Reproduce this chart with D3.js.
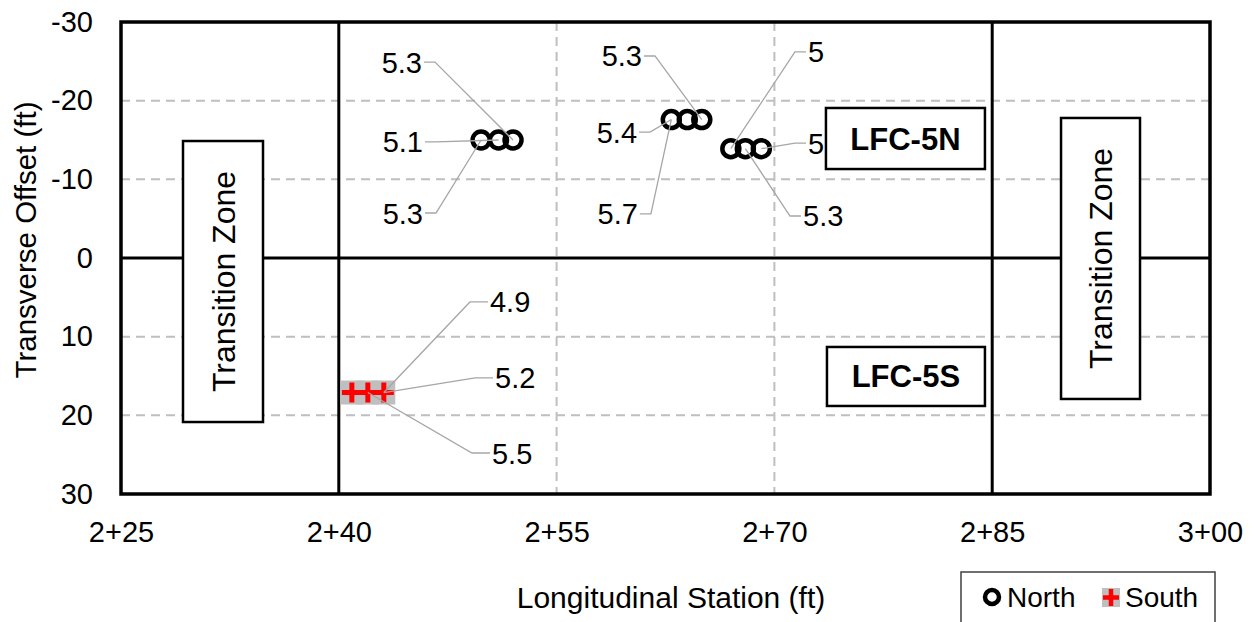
<!DOCTYPE html>
<html>
<head>
<meta charset="utf-8">
<script src="https://cdn.jsdelivr.net/npm/d3@7"></script>
<style>
  body { margin: 0; background: #fff; }
  svg { font-family: "Liberation Sans", Arial, sans-serif; }
</style>
</head>
<body>
<svg id="chart" width="1258" height="622"></svg>
<script>
// stations in ft (2+25 = 225), offsets in ft (negative = north)
const xTicks = [225, 240, 255, 270, 285, 300];
const yTicks = [-30, -20, -10, 0, 10, 20, 30];

const northStation = [249.8, 251, 252, 262.9, 264, 265, 267, 268, 269.1];
const northOffset  = [-15, -15, -15, -17.6, -17.6, -17.6, -13.9, -13.9, -13.9];
const northLabel   = ['5.3', '5.1', '5.3', '5.3', '5.4', '5.7', '5', '5', '5.3'];
// label anchor (station, offset) and which side the text sits on
const northLabelAt = [[245.73, -24.9, 'end'], [245.8, -14.75, 'end'], [245.8, -5.72, 'end'],
                      [260.88, -25.68, 'end'], [260.54, -16.0, 'end'], [260.6, -5.6, 'end'],
                      [272.31, -26.2, 'start'], [272.31, -14.6, 'start'], [271.97, -5.34, 'start']];
const northLeadTo  = [2, 1, 0, 5, 3, 3, 6, 8, 7];

const southStation = [240.9, 242, 243.1];
const southOffset  = [17.1, 17.1, 17.1];
const southLabel   = ['4.9', '5.2', '5.5'];
const southLabelAt = [[250.41, 5.59, 'start'], [250.76, 15.25, 'start'], [250.55, 24.79, 'start']];
const southLeadTo  = [2, 2, 1];

const zoneBoxes = [[229.27, 234.78, -14.87, 20.85], [289.74, 295.18, -17.8, 17.92]];
const areaBoxes = [['LFC-5N', 273.55, 284.5, -19.07, -11.31], ['LFC-5S', 273.62, 284.5, 11.31, 18.81]];
const thickX = [240, 285];
const thickY = [0];

const svg = d3.select('#chart');
const plotL = 121, plotR = 1210, plotT = 22, plotB = 494;
const FS = 29;

const x = d3.scaleLinear().domain([225, 300]).range([plotL, plotR]);
const y = d3.scaleLinear().domain([-30, 30]).range([plotT, plotB]);

const stationFmt = v => `${Math.floor(v / 100)}+${String(v % 100).padStart(2, '0')}`;

// grid
const grid = svg.append('g').attr('class', 'grid');
grid.selectAll('.gx').data(xTicks.filter(v => v > 225 && v < 300 && !thickX.includes(v)))
  .enter().append('line')
    .attr('x1', d => x(d)).attr('x2', d => x(d))
    .attr('y1', plotT).attr('y2', plotB)
    .attr('stroke', '#bfbfbf').attr('stroke-width', 2).attr('stroke-dasharray', '9,6');
grid.selectAll('.gy').data(yTicks.filter(v => v > -30 && v < 30 && !thickY.includes(v)))
  .enter().append('line')
    .attr('x1', plotL).attr('x2', plotR)
    .attr('y1', d => y(d)).attr('y2', d => y(d))
    .attr('stroke', '#bfbfbf').attr('stroke-width', 2).attr('stroke-dasharray', '9,6');

// zone divider lines
svg.selectAll('.tx').data(thickX).enter().append('line')
  .attr('x1', d => x(d)).attr('x2', d => x(d)).attr('y1', plotT).attr('y2', plotB)
  .attr('stroke', '#000').attr('stroke-width', 3);
svg.selectAll('.ty').data(thickY).enter().append('line')
  .attr('x1', plotL).attr('x2', plotR).attr('y1', d => y(d)).attr('y2', d => y(d))
  .attr('stroke', '#000').attr('stroke-width', 3);

// frame
svg.append('rect')
  .attr('x', plotL).attr('y', plotT).attr('width', plotR - plotL).attr('height', plotB - plotT)
  .attr('fill', 'none').attr('stroke', '#000').attr('stroke-width', 3.5);

// axes
const xAxis = svg.append('g').attr('transform', `translate(0,${plotB})`)
  .call(d3.axisBottom(x).tickValues(xTicks).tickFormat(stationFmt).tickSize(0).tickPadding(27));
const yAxis = svg.append('g').attr('transform', `translate(${plotL},0)`)
  .call(d3.axisLeft(y).tickValues(yTicks).tickFormat(d => String(d)).tickSize(0).tickPadding(28));
[xAxis, yAxis].forEach(a => {
  a.select('.domain').remove();
  a.selectAll('text').attr('font-size', FS).attr('fill', '#000')
    .attr('font-family', '"Liberation Sans", Arial, sans-serif');
});

svg.append('text')
  .attr('x', 671).attr('y', 608).attr('text-anchor', 'middle')
  .attr('font-size', 30).text('Longitudinal Station (ft)');
svg.append('text')
  .attr('transform', 'translate(36,240) rotate(-90)')
  .attr('text-anchor', 'middle').attr('font-size', 29.5).text('Transverse Offset (ft)');

// annotation boxes
const zones = svg.selectAll('.zone').data(zoneBoxes).enter().append('g');
zones.append('rect')
  .attr('x', d => x(d[0])).attr('y', d => y(d[2]))
  .attr('width', d => x(d[1]) - x(d[0])).attr('height', d => y(d[3]) - y(d[2]))
  .attr('fill', '#fff').attr('stroke', '#000').attr('stroke-width', 2.5);
zones.append('text')
  .attr('transform', d => `translate(${(x(d[0]) + x(d[1])) / 2 + 11.5},${(y(d[2]) + y(d[3])) / 2}) rotate(-90)`)
  .attr('text-anchor', 'middle').attr('font-size', 32).text('Transition Zone');

const areas = svg.selectAll('.area').data(areaBoxes).enter().append('g');
areas.append('rect')
  .attr('x', d => x(d[1])).attr('y', d => y(d[3]))
  .attr('width', d => x(d[2]) - x(d[1])).attr('height', d => y(d[4]) - y(d[3]))
  .attr('fill', '#fff').attr('stroke', '#000').attr('stroke-width', 2.5);
areas.append('text')
  .attr('x', d => (x(d[1]) + x(d[2])) / 2).attr('y', d => (y(d[3]) + y(d[4])) / 2 + 11)
  .attr('text-anchor', 'middle').attr('font-size', 31).attr('font-weight', 'bold').text(d => d[0]);

// markers
const northData = northStation.map((s, i) => ({ s, o: northOffset[i] }));
const southData = southStation.map((s, i) => ({ s, o: southOffset[i] }));

svg.append('g').selectAll('rect').data(southData).enter().append('rect')
  .attr('x', d => x(d.s) - 11.5).attr('y', d => y(d.o) - 12)
  .attr('width', 23).attr('height', 24).attr('fill', '#bfbfbf');
const plus = svg.append('g').selectAll('g').data(southData).enter().append('g')
  .attr('transform', d => `translate(${x(d.s)},${y(d.o)})`);
plus.append('line').attr('x1', -10).attr('x2', 10).attr('stroke', '#ff0000').attr('stroke-width', 5);
plus.append('line').attr('y1', -10).attr('y2', 10).attr('stroke', '#ff0000').attr('stroke-width', 5);

svg.append('g').selectAll('circle').data(northData).enter().append('circle')
  .attr('cx', d => x(d.s)).attr('cy', d => y(d.o)).attr('r', 8.5)
  .attr('fill', 'none').attr('stroke', '#000').attr('stroke-width', 4.5);

// data labels with leader lines
function drawLabels(stations, offsets, labels, labelAt, leadTo, elbow) {
  const g = svg.append('g');
  labels.forEach((txt, i) => {
    const [ls, lo, side] = labelAt[i];
    const tx = x(ls), ty = y(lo);
    const j = leadTo[i];
    const px = x(stations[j]), py = y(offsets[j]);
    const dir = side === 'end' ? 1 : -1;
    const sx = tx + dir * 2, kx = tx + dir * elbow;
    g.append('polyline')
      .attr('points', `${sx},${ty} ${kx},${ty} ${px},${py}`)
      .attr('fill', 'none').attr('stroke', '#a6a6a6').attr('stroke-width', 1.3);
    g.append('text')
      .attr('x', tx).attr('y', ty + 10.5).attr('text-anchor', side)
      .attr('font-size', FS).text(txt);
  });
}
drawLabels(northStation, northOffset, northLabel, northLabelAt, northLeadTo, 13);
drawLabels(southStation, southOffset, southLabel, southLabelAt, southLeadTo, 20);

// legend
const legend = svg.append('g');
legend.append('rect').attr('x', 961).attr('y', 572).attr('width', 254).attr('height', 60)
  .attr('fill', '#fff').attr('stroke', '#404040').attr('stroke-width', 1.5);
legend.append('circle').attr('cx', 992).attr('cy', 597).attr('r', 7)
  .attr('fill', 'none').attr('stroke', '#000').attr('stroke-width', 4.5);
legend.append('text').attr('x', 1007).attr('y', 607).attr('font-size', 28).text('North');
legend.append('rect').attr('x', 1102).attr('y', 588).attr('width', 18).attr('height', 19).attr('fill', '#bfbfbf');
legend.append('line').attr('x1', 1103).attr('x2', 1119).attr('y1', 597.5).attr('y2', 597.5)
  .attr('stroke', '#ff0000').attr('stroke-width', 4.5);
legend.append('line').attr('x1', 1111).attr('x2', 1111).attr('y1', 589).attr('y2', 606)
  .attr('stroke', '#ff0000').attr('stroke-width', 4.5);
legend.append('text').attr('x', 1125).attr('y', 607).attr('font-size', 28).text('South');
</script>
</body>
</html>
